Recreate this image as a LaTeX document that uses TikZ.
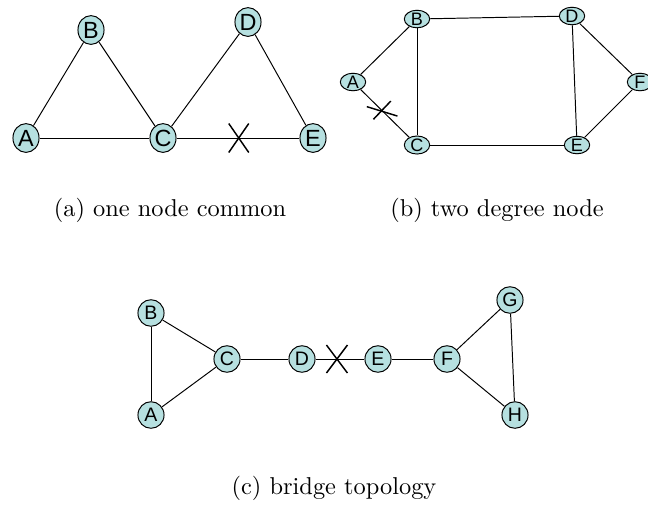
\documentclass[tikz,border=0pt]{standalone}
\usepackage{fontspec}
\setsansfont{Liberation Sans}
\usepackage{tikz}
\usetikzlibrary{shapes.geometric,calc}
\usepackage{xcolor}
\definecolor{nodeblue}{RGB}{182,224,224}

\begin{document}
\begin{tikzpicture}[x=0.41pt,y=-0.41pt,
    vtx/.style={ellipse,draw,fill=nodeblue,inner sep=0pt},
    bigvtx/.style={vtx,minimum width=10.7pt,minimum height=11.8pt,font=\sffamily\fontsize{9.6}{10}\selectfont},
    flatvtx/.style={vtx,minimum width=10.4pt,minimum height=6.6pt,font=\sffamily\fontsize{7.4}{8}\selectfont},
    midvtx/.style={vtx,minimum width=10.7pt,minimum height=10.9pt,font=\sffamily\fontsize{8}{9}\selectfont},
    cut/.style={line width=0.6pt},
    capt/.style={anchor=base,font=\normalsize}]
  \useasboundingbox (0,0) rectangle (648,505);
  % (a) one node common
  \node[bigvtx] (a-A) at (26,138) {A}; \node[bigvtx] (a-B) at (91,30) {B};
  \node[bigvtx] (a-C) at (163,138) {C}; \node[bigvtx] (a-D) at (248,22) {D};
  \node[bigvtx] (a-E) at (313,138) {E};
  \foreach \u/\v in {A/B,B/C,A/C,C/D,D/E,C/E}{\draw (a-\u) -- (a-\v);}
  \coordinate (a-x) at ($(a-C)!0.505!(a-E)$);
  \draw[cut] ($(a-x)+(-10,-14.5)$) -- ($(a-x)+(10,14.5)$);
  \draw[cut] ($(a-x)+(-10,14.5)$) -- ($(a-x)+(10,-14.5)$);
  \node[capt] (a-cap) at (170,216) {(a) one node common};
  % (b) two degree node
  \node[flatvtx] (b-A) at (353,82) {A}; \node[flatvtx] (b-B) at (417,19) {B};
  \node[flatvtx] (b-C) at (417,145) {C}; \node[flatvtx] (b-D) at (572,16) {D};
  \node[flatvtx] (b-E) at (577,145) {E}; \node[flatvtx] (b-F) at (640,82) {F};
  \foreach \u/\v in {A/B,A/C,B/C,B/D,C/E,D/E,D/F,E/F}{\draw (b-\u) -- (b-\v);}
  \coordinate (b-x) at ($(b-A)!0.45!(b-C)$);
  \draw[cut] ($(b-x)+(-15,-3.7)$) -- ($(b-x)+(15.6,5.7)$);
  \draw[cut] ($(b-x)+(-8.4,9)$) -- ($(b-x)+(9,-9.3)$);
  \node[capt] (b-cap) at (497,216) {(b) two degree node};
  % (c) bridge topology
  \node[midvtx] (c-A) at (151,415) {A}; \node[midvtx] (c-B) at (151,313) {B};
  \node[midvtx] (c-C) at (227,359) {C}; \node[midvtx] (c-D) at (302,359) {D};
  \node[midvtx] (c-E) at (378,359) {E}; \node[midvtx] (c-F) at (447,359) {F};
  \node[midvtx] (c-G) at (510,300) {G}; \node[midvtx] (c-H) at (515,415) {H};
  \foreach \u/\v in {A/B,B/C,A/C,C/D,D/E,E/F,F/G,F/H,G/H}{\draw (c-\u) -- (c-\v);}
  \coordinate (c-x) at ($(c-D)!0.46!(c-E)$);
  \draw[cut] ($(c-x)+(-10.5,-14)$) -- ($(c-x)+(10.5,14)$);
  \draw[cut] ($(c-x)+(-10.5,14)$) -- ($(c-x)+(10.5,-14)$);
  \node[capt] (c-cap) at (334,494) {(c) bridge topology};
\end{tikzpicture}
\end{document}
